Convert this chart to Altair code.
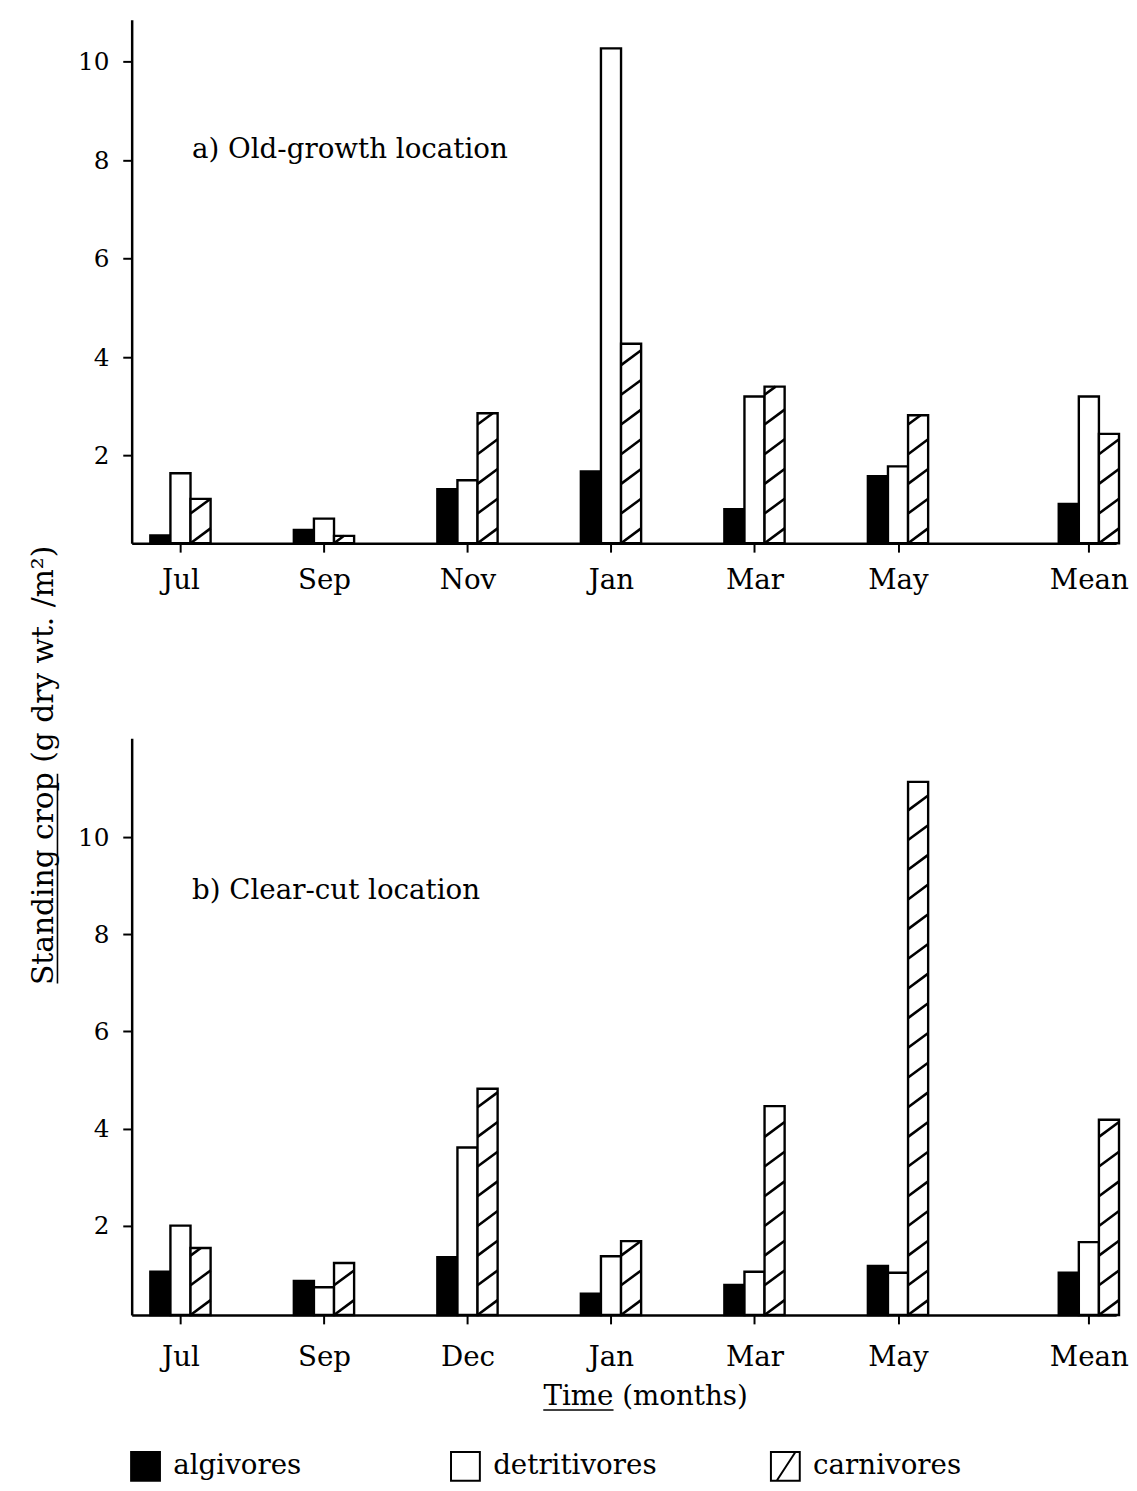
import json
import altair as alt
import pandas as pd

# ---------------- data ----------------
months_a = ["Jul", "Sep", "Nov", "Jan", "Mar", "May", "Mean"]
algivores_a = [0.38, 0.49, 1.32, 1.68, 0.91, 1.58, 1.02]
detritivores_a = [1.64, 0.72, 1.50, 10.27, 3.20, 1.78, 3.20]
carnivores_a = [1.12, 0.37, 2.86, 4.27, 3.40, 2.82, 2.44]

months_b = ["Jul", "Sep", "Dec", "Jan", "Mar", "May", "Mean"]
algivores_b = [1.05, 0.86, 1.35, 0.60, 0.78, 1.17, 1.03]
detritivores_b = [2.00, 0.73, 3.61, 1.37, 1.05, 1.03, 1.66]
carnivores_b = [1.54, 1.23, 4.82, 1.68, 4.46, 11.14, 4.18]

groups = ["algivores", "detritivores", "carnivores"]
y_ticks = [2, 4, 6, 8, 10]

label_a = "a) Old-growth location"
label_b = "b) Clear-cut location"
y_title = "Standing crop (g dry wt. /m\u00b2)"
x_title = "Time (months)"

# ---------------- layout / style ----------------
SLOTS = [0, 1, 2, 3, 4, 5, 6.33]      # group positions along x (Mean set apart)
X_DOMAIN = [-0.34, 6.52]
BAR_W = 0.14
PANEL_W = 995
FONT = "DejaVu Serif"
TXT = 28
HATCH_STEP_PX = 30
HATCH_RISE_PX = 15
STROKES = [2.4, 2.4, 3.0]


def bar_rows(alg, det, carn, base):
    rows = []
    for i, vals in enumerate(zip(alg, det, carn)):
        for k, (g, v) in enumerate(zip(groups, vals)):
            x0 = SLOTS[i] + (k - 1.5) * BAR_W
            rows.append(dict(group=g, x0=x0, x1=x0 + BAR_W, value=v, base=base))
    return pd.DataFrame(rows)


def hatch_rows(carn, dmin, ppu):
    step = HATCH_STEP_PX / ppu
    rise = HATCH_RISE_PX / ppu
    rows = []
    for i, v in enumerate(carn):
        x0 = SLOTS[i] + 0.5 * BAR_W
        x1 = x0 + BAR_W
        y = dmin
        while y < v - 0.03:
            ye = y + rise
            xe = x1
            if ye > v:
                xe = x0 + (v - y) / rise * BAR_W
                ye = v
            rows.append(dict(x0=x0, x1=xe, value=y, base=ye))
            y += step
    return pd.DataFrame(rows)


def panel(months, alg, det, carn, ydom, height, label, label_y, ytitle, xtitle, xlabpad):
    ppu = height / (ydom[1] - ydom[0])
    xs = alt.Scale(domain=X_DOMAIN, nice=False, zero=False)
    ys = alt.Scale(domain=ydom, nice=False, zero=False)
    label_expr = json.dumps(months) + "[round(datum.value)]"

    xaxis = dict(values=SLOTS, labelExpr=label_expr, title=xtitle, grid=False,
                 labelPadding=xlabpad)
    if xtitle:
        xaxis.update(titleX=519, titleY=82, titleBaseline="middle", titleAlign="center")
    yaxis = dict(values=y_ticks, title=ytitle, grid=False)
    if ytitle:
        yaxis.update(titleX=-89, titleY=27, titleBaseline="middle", titleAngle=270,
                     titleFontSize=30)

    X = alt.X("x0:Q", scale=xs, axis=alt.Axis(**xaxis))
    Y = alt.Y("value:Q", scale=ys, axis=alt.Axis(**yaxis))

    bars = alt.Chart(bar_rows(alg, det, carn, ydom[0])).mark_bar(stroke="black").encode(
        x=X, x2="x1:Q", y=Y, y2="base:Q",
        fill=alt.Fill("group:N", scale=alt.Scale(domain=groups, range=["black", "white", "white"]), legend=None),
        strokeWidth=alt.StrokeWidth("group:N", scale=alt.Scale(domain=groups, range=STROKES), legend=None),
    )
    hatch = alt.Chart(hatch_rows(carn, ydom[0], ppu)).mark_rule(
        color="black", strokeWidth=2.6
    ).encode(x=X, x2="x1:Q", y=Y, y2="base:Q")
    txt = alt.Chart(pd.DataFrame({"x0": [0.08], "value": [label_y], "t": [label]})).mark_text(
        align="left", baseline="middle", font=FONT, fontSize=TXT, color="black"
    ).encode(x=X, y=Y, text="t:N")
    layers = [bars, hatch, txt]
    if ytitle:
        # underline of "Standing crop" (rotated title) and of "Time"
        layers.append(alt.Chart(pd.DataFrame({"u": [0]})).mark_rule(color="black", strokeWidth=1.6).encode(
            x=alt.value(-75), y=alt.value(36), y2=alt.value(248)))
        layers.append(alt.Chart(pd.DataFrame({"u": [0]})).mark_rule(color="black", strokeWidth=1.6).encode(
            x=alt.value(416), x2=alt.value(487), y=alt.value(height + 96)))
    return alt.layer(*layers).properties(width=PANEL_W, height=height)


pa = panel(months_a, algivores_a, detritivores_a, carnivores_a, [0.22, 10.85], 529,
           label_a, 8.2, "", "", 15)
pb = panel(months_b, algivores_b, detritivores_b, carnivores_b, [0.16, 12.04], 583,
           label_b, 8.88, y_title, x_title, 20)

hatch_path = "M-1,-1L1,-1L1,1L-1,1Z M-0.6,1L0.7,-1"
leg_df = pd.DataFrame({"group": groups})
leg_x = alt.X("group:N", sort=groups,
              scale=alt.Scale(type="band", paddingInner=0, paddingOuter=0),
              bandPosition=0, axis=None)
leg_pts = alt.Chart(leg_df).mark_point(filled=True, size=850, stroke="black",
                                       strokeWidth=2, strokeOpacity=1, opacity=1, xOffset=14).encode(
    x=leg_x,
    y=alt.value(20),
    fill=alt.Fill("group:N", scale=alt.Scale(domain=groups, range=["black", "white", "white"]), legend=None),
    shape=alt.Shape("group:N", scale=alt.Scale(domain=groups, range=["square", "square", hatch_path]), legend=None),
)
leg_txt = alt.Chart(leg_df).mark_text(align="left", baseline="middle", font=FONT,
                                      fontSize=TXT, color="black", dx=42).encode(
    x=leg_x,
    y=alt.value(20),
    text="group:N",
)
legend = alt.layer(leg_pts, leg_txt).properties(width=970, height=40)

lower = alt.vconcat(pb, legend, spacing=133, bounds="flush")
chart = alt.vconcat(pa, lower, spacing=197, bounds="flush").properties(
    padding={"left": 20, "top": 4, "right": 0, "bottom": 0},
    background="white",
).configure_view(strokeWidth=0).configure_axis(
    domainColor="black", domainWidth=2.5, tickColor="black", tickWidth=2, tickSize=9,
    labelFont=FONT, labelFontSize=TXT, labelColor="black", labelPadding=10,
    titleFont=FONT, titleFontSize=TXT, titleColor="black", titleFontWeight="normal",
).configure_axisY(labelFontSize=25, labelPadding=14)

chart.save("out.html", embed_options={"renderer": "svg", "actions": False})
